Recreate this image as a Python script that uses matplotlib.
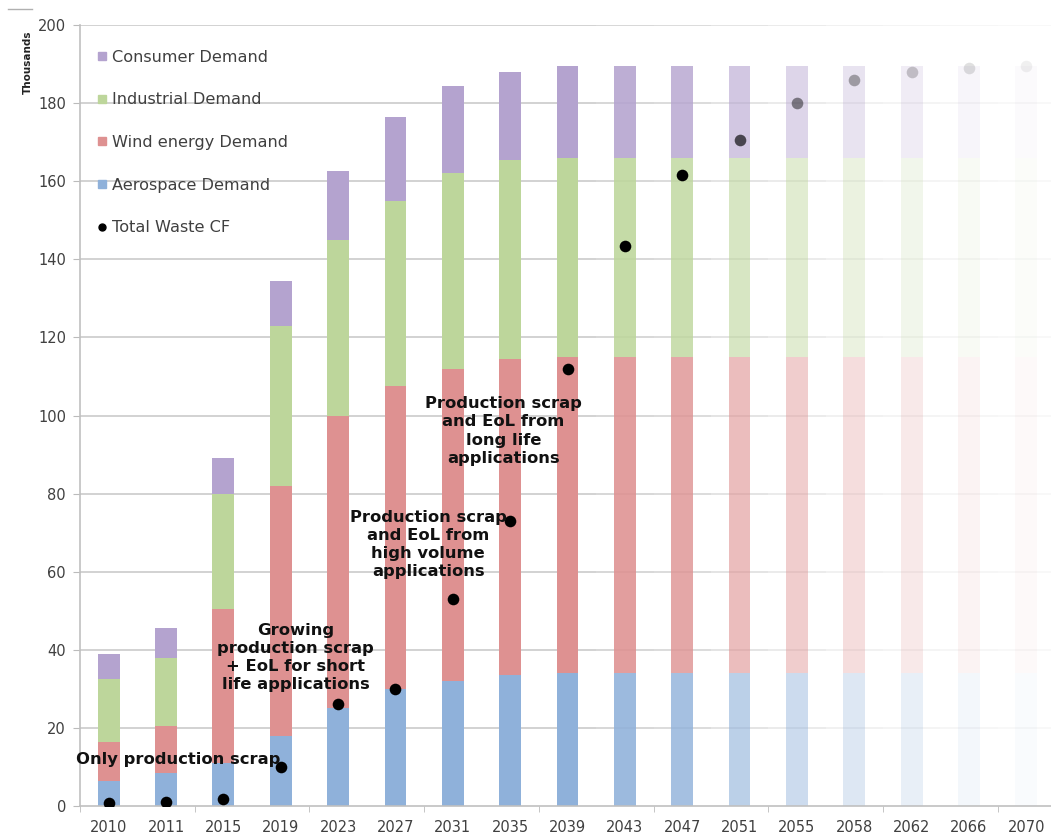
import matplotlib
matplotlib.use("Agg")
import matplotlib.pyplot as plt
import numpy as np
from matplotlib.lines import Line2D

years = ["2010", "2011", "2015", "2019", "2023", "2027", "2031", "2035", "2039",
         "2043", "2047", "2051", "2055", "2058", "2062", "2066", "2070"]
# stacked segment values (thousands)
aerospace = [6.5, 8.5, 11, 18, 25, 30, 32, 33.5, 34, 34, 34, 34, 34, 34, 34, 34, 34]
wind = [10, 12, 39.5, 64, 75, 77.5, 80, 81, 81, 81, 81, 81, 81, 81, 81, 81, 81]
industrial = [16, 17.5, 29.5, 41, 45, 47.5, 50, 51, 51, 51, 51, 51, 51, 51, 51, 51, 51]
consumer = [6.5, 7.5, 9, 11.5, 17.5, 21.5, 22.5, 22.5, 23.5, 23.5, 23.5, 23.5, 23.5, 23.5, 23.5, 23.5, 23.5]
waste = [0.8, 1.0, 1.8, 10, 26, 30, 53, 73, 112, 143.5, 161.5, 170.5, 180, 186, 188, 189, 189.5]

# style: fading of projected years
bar_alpha = [1, 1, 1, 1, 1, 1, 1, 1, 1, 0.88, 0.8, 0.6, 0.45, 0.3, 0.2, 0.1, 0.05]
dot_alpha = [1, 1, 1, 1, 1, 1, 1, 1, 1, 1, 1, 0.65, 0.45, 0.32, 0.2, 0.12, 0.06]

colors = {"Aerospace Demand": "#8fb1da", "Wind energy Demand": "#de9191",
          "Industrial Demand": "#bdd69b", "Consumer Demand": "#b4a3cf"}
txtc = "#404040"

fig = plt.figure(figsize=(10.51, 8.34), dpi=100)
ax = fig.add_axes([80/1051, 1-806/834, 1-80/1051, (806-25)/834])

x = np.arange(len(years))
w = 0.38
yt = np.arange(0, 201, 20)

# faded gridlines
for i in x:
    ga = max(bar_alpha[i], 0.25) if i < 15 else bar_alpha[i] + 0.1
    ax.hlines(yt[1:], i - 0.5, i + 0.5, color="#cfcfcf", lw=1.3, alpha=ga, zorder=0)

series = [("Aerospace Demand", aerospace), ("Wind energy Demand", wind),
          ("Industrial Demand", industrial), ("Consumer Demand", consumer)]
bottom = np.zeros(len(years))
for name, vals in series:
    vals = np.array(vals, dtype=float)
    for i in x:
        ax.bar(x[i], vals[i], w, bottom=bottom[i], color=colors[name],
               alpha=bar_alpha[i], linewidth=0, zorder=2)
    bottom += vals

for i in x:
    ax.scatter(x[i], waste[i], s=70, color="black", alpha=dot_alpha[i],
               linewidths=0, zorder=4)

ax.set_xlim(-0.5, 16.43)
ax.set_ylim(0, 200)
ax.set_yticks(yt)
ax.set_xticks(x)
ax.set_xticklabels(years, fontsize=10.5, color=txtc)
ax.tick_params(axis="x", length=0, pad=10)
ax.set_xticks(np.arange(-0.5, 16.5, 2), minor=True)
ax.tick_params(axis="x", which="minor", length=4, color="#bbbbbb", direction="out")
ax.tick_params(axis="y", labelsize=10.5, labelcolor=txtc, length=5, color="#bbbbbb", pad=5)

for s in ["top", "right"]:
    ax.spines[s].set_visible(False)
ax.spines["left"].set_color("#c0c0c0")
ax.spines["bottom"].set_color("#c0c0c0")
ax.spines["left"].set_linewidth(1.2)
ax.spines["bottom"].set_linewidth(1.2)

ax.text(-1.41, 190.5, "Thousands", rotation=90, fontsize=7.5, fontweight="bold",
        ha="center", va="center", color="#222222", clip_on=False)

fs = 11.8
ls = 1.27
tc = "#111111"
ax.text(1.22, 12, "Only production scrap", ha="center", va="center", fontsize=fs,
        fontweight="bold", color=tc, zorder=5, linespacing=ls)
ax.text(3.26, 38, "Growing\nproduction scrap\n+ EoL for short\nlife applications",
        ha="center", va="center", fontsize=fs, fontweight="bold", color=tc,
        zorder=5, linespacing=ls)
ax.text(5.57, 67, "Production scrap\nand EoL from\nhigh volume\napplications",
        ha="center", va="center", fontsize=fs, fontweight="bold", color=tc,
        zorder=5, linespacing=ls)
ax.text(6.88, 96, "Production scrap\nand EoL from\nlong life\napplications",
        ha="center", va="center", fontsize=fs, fontweight="bold", color=tc,
        zorder=5, linespacing=ls)

handles = [Line2D([], [], marker="s", ls="", color=colors["Consumer Demand"], markersize=6),
           Line2D([], [], marker="s", ls="", color=colors["Industrial Demand"], markersize=6),
           Line2D([], [], marker="s", ls="", color=colors["Wind energy Demand"], markersize=6),
           Line2D([], [], marker="s", ls="", color=colors["Aerospace Demand"], markersize=6),
           Line2D([], [], marker="o", ls="", color="black", markersize=5)]
labels = ["Consumer Demand", "Industrial Demand", "Wind energy Demand",
          "Aerospace Demand", "Total Waste CF"]
leg = ax.legend(handles, labels, loc="upper left", bbox_to_anchor=(0.006, 0.983),
                frameon=False, fontsize=11.6, labelspacing=1.72, handlelength=0.6,
                handletextpad=0.3, borderaxespad=0.3)
for t in leg.get_texts():
    t.set_color(txtc)

fig.add_artist(Line2D([8/1051, 32/1051], [1-9/834, 1-9/834], color="#b0b0b0", lw=1))

fig.savefig("out.png", dpi=100)
